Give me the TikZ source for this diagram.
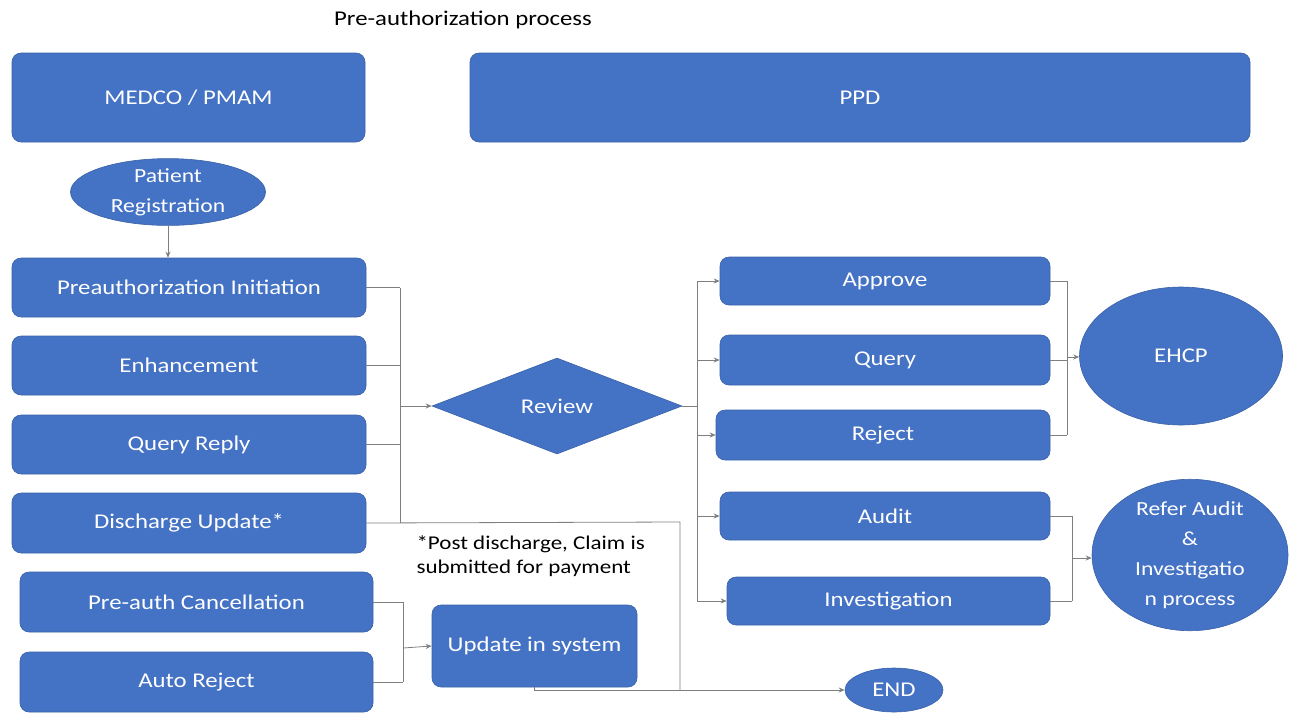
\documentclass[tikz,border=0pt]{standalone}
\usepackage{fontspec}
\setmainfont{Carlito}[FakeStretch=1.18]
\usetikzlibrary{shapes.geometric,arrows.meta}
\definecolor{boxblue}{HTML}{4472C4}
\definecolor{linegrey}{HTML}{7F7F7F}
\tikzset{
  stepbox/.style={draw=boxblue!85!black, line width=0.6pt, fill=boxblue, rounded corners=9pt,
    text=white, font=\fontsize{21}{25}\selectfont, inner sep=0pt, anchor=center},
  oval/.style={ellipse, draw=boxblue!85!black, line width=0.6pt, fill=boxblue, text=white,
    font=\fontsize{21}{25}\selectfont, inner sep=0pt, align=center},
  decide/.style={diamond, draw=boxblue!85!black, line width=0.6pt, fill=boxblue, text=white,
    font=\fontsize{21}{25}\selectfont, inner sep=0pt},
  wire/.style={draw=linegrey, line width=0.8pt},
  flow/.style={wire, -{Stealth[length=6pt,width=5pt]}},
}
\newcommand{\boxat}[5]{% name, cx, cy, width, height
  \node[stepbox, minimum width=#4pt, minimum height=#5pt] (#1) at (#2,#3)}
\begin{document}
\begin{tikzpicture}[x=1pt,y=-1pt]
\useasboundingbox (0,0) rectangle (1293,713);

% heading
\node[font=\fontsize{21}{25}\selectfont] (title) at (463,20) {Pre-authorization process};

% swimlane headers
\boxat{medco}{188.5}{97.5}{353}{89} {MEDCO / PMAM};
\boxat{ppd}{860}{97.5}{780}{89} {PPD};

% MEDCO side
\node[oval, minimum width=195pt, minimum height=58pt, font=\fontsize{20}{30}\selectfont] (preg) at (168,192) {Patient\\Registration};
\boxat{preinit}{189}{287.5}{354}{59} {Preauthorization Initiation};
\boxat{enh}{189}{365.5}{354}{59} {Enhancement};
\boxat{qrep}{189}{444.5}{354}{59} {Query Reply};
\boxat{disch}{189}{523}{354}{60} {Discharge Update*};
\boxat{cancel}{196.5}{602}{353}{60} {Pre-auth Cancellation};
\boxat{autorej}{196.5}{682}{353}{60} {Auto Reject};
\boxat{upd}{534.5}{646}{205}{82} {Update in system};

\node[anchor=north west, align=left, font=\fontsize{19.5}{24}\selectfont] (note) at (413,532)
  {*Post discharge, Claim is\\submitted for payment};

% review and outcomes
\node[decide, minimum width=250pt, minimum height=96pt] (review) at (557,406) {Review};
\boxat{approve}{885}{281}{330}{48} {Approve};
\boxat{query}{885}{360}{330}{50} {Query};
\boxat{reject}{883}{435}{334}{50} {Reject};
\boxat{audit}{885}{516}{330}{48} {Audit};
\boxat{invest}{888.5}{601}{323}{48} {Investigation};

\node[oval, minimum width=203pt, minimum height=138pt] (ehcp) at (1181,356) {EHCP};
\node[oval, minimum width=196pt, minimum height=130pt, font=\fontsize{20}{30}\selectfont] (refer) at (1190,555)
  {Refer Audit\\\&\\Investigatio\\n process};
\node[oval, minimum width=98pt, minimum height=44pt] (endE) at (894,690) {END};

% bus positions
\coordinate (busL) at (400,406);
\coordinate (busR) at (697,406);
\coordinate (busE) at (1067,357);
\coordinate (busA) at (1072,558);
\coordinate (busC) at (403,648);
\coordinate (dturn) at (680,522);

% registration to initiation
\draw[flow] (preg.south) -- (preg.south |- preinit.north);

% requests into review
\foreach \n in {preinit,enh,qrep}
  \draw[wire] (\n.east) -- (\n.east -| busL);
\draw[wire] (preinit.east -| busL) -- (disch.east -| busL);
\draw[flow] (busL) -- (review.west);

% discharge update goes to END
\draw[wire] (disch.east) -- (dturn) -- (dturn |- endE.west);

% review outcomes
\draw[wire] (review.east) -- (busR);
\draw[wire] (approve.west -| busR) -- (invest.west -| busR);
\foreach \n in {approve,query,reject,audit,invest}
  \draw[flow] (\n.west -| busR) -- (\n.west);

% approve / query / reject to EHCP
\foreach \n in {approve,query,reject}
  \draw[wire] (\n.east) -- (\n.east -| busE);
\draw[wire] (approve.east -| busE) -- (reject.east -| busE);
\draw[flow] (busE) -- (busE -| ehcp.west);

% audit / investigation to referral
\foreach \n in {audit,invest}
  \draw[wire] (\n.east) -- (\n.east -| busA);
\draw[wire] (audit.east -| busA) -- (invest.east -| busA);
\draw[flow] (busA) -- (busA -| refer.west);

% cancellation / auto reject to system update
\foreach \n in {cancel,autorej}
  \draw[wire] (\n.east) -- (\n.east -| busC);
\draw[wire] (cancel.east -| busC) -- (autorej.east -| busC);
\draw[flow] (busC) -- (upd.west);

% system update to END
\draw[flow] (upd.south) |- (endE.west);
\end{tikzpicture}
\end{document}
